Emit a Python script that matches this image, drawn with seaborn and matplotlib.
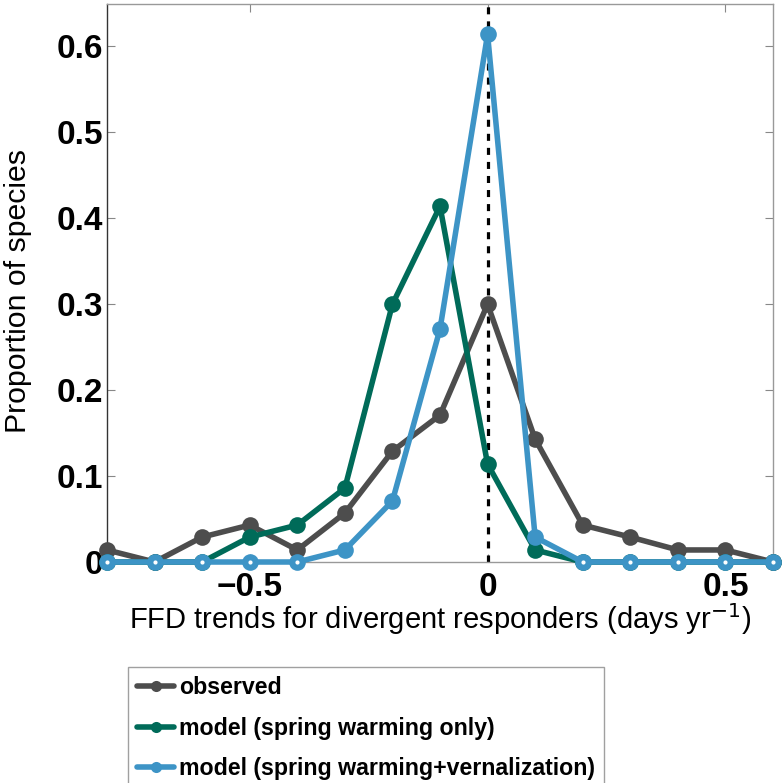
import numpy as np
import pandas as pd
import matplotlib
matplotlib.use("Agg")
import matplotlib.pyplot as plt
import seaborn as sns
from matplotlib.lines import Line2D

# ---- data ----
x_vals = [-0.8, -0.7, -0.6, -0.5, -0.4, -0.3, -0.2, -0.1, 0.0, 0.1, 0.2, 0.3, 0.4, 0.5, 0.6]
observed = [0.014, 0.0, 0.029, 0.043, 0.014, 0.057, 0.129, 0.171, 0.300, 0.143, 0.043, 0.029, 0.014, 0.014, 0.0]
model_warming = [0.0, 0.0, 0.0, 0.029, 0.043, 0.086, 0.300, 0.414, 0.114, 0.014, 0.0, 0.0, 0.0, 0.0, 0.0]
model_vern = [0.0, 0.0, 0.0, 0.0, 0.0, 0.014, 0.071, 0.271, 0.614, 0.029, 0.0, 0.0, 0.0, 0.0, 0.0]
series_names = ["observed", "model (spring warming only)", "model (spring warming+vernalization)"]
colors = ["#4d4d4d", "#006b59", "#3d94c6"]
x_ticks = [-0.5, 0.0, 0.5]
x_tick_labels = ["\u22120.5", "0", "0.5"]
y_ticks = [0.0, 0.1, 0.2, 0.3, 0.4, 0.5, 0.6]
y_tick_labels = ["0", "0.1", "0.2", "0.3", "0.4", "0.5", "0.6"]

df = pd.concat([
    pd.DataFrame({"x": x_vals, "y": vals, "series": name})
    for name, vals in zip(series_names, [observed, model_warming, model_vern])
], ignore_index=True)

sns.set_style("white")
plt.rcParams["font.family"] = ["Liberation Sans", "DejaVu Sans"]
plt.rcParams["text.color"] = "black"
plt.rcParams["axes.labelcolor"] = "black"
plt.rcParams["xtick.color"] = "black"
plt.rcParams["ytick.color"] = "black"

fig = plt.figure(figsize=(7.83, 7.83), dpi=100)
ax = fig.add_axes([107 / 783, 1 - 562 / 783, (773 - 107) / 783, (562 - 3.5) / 783])

ax.axvline(0, color="black", linestyle=(0, (2.2, 2.2)), linewidth=2.3, zorder=1)

sns.lineplot(data=df, x="x", y="y", hue="series", hue_order=series_names,
             palette=colors, marker="o", markersize=12, markeredgewidth=0,
             linewidth=4, ax=ax, legend=False, zorder=3, clip_on=False)

# white centres on zero-valued vernalization markers
zx = [xv for xv, yv in zip(x_vals, model_vern) if yv == 0]
zy = [yv for yv in model_vern if yv == 0]
ax.scatter(zx, zy, s=9, color="white", zorder=5, clip_on=False, linewidths=0)

ax.set_xlim(-0.8, 0.6)
ax.set_ylim(0, 0.65)
ax.set_xticks(x_ticks)
ax.set_xticklabels(x_tick_labels, fontsize=24, fontweight="bold")
ax.set_yticks(y_ticks)
ax.set_yticklabels(y_tick_labels, fontsize=24, fontweight="bold")
ax.tick_params(direction="in", length=6, width=0.8, color="#888888", labelcolor="black",
               top=True, right=True, bottom=True, left=True)
ax.tick_params(axis="x", pad=7)
ax.tick_params(axis="y", pad=3)
ax.set_xlabel("FFD trends for divergent responders (days yr$^{-1}$)", fontsize=21, labelpad=-1)
ax.set_ylabel("Proportion of species", fontsize=21.8)
ax.yaxis.set_label_coords(-0.112, 0.485)
for side in ["top", "right", "bottom"]:
    ax.spines[side].set_color("#999999")
    ax.spines[side].set_linewidth(1.0)
ax.spines["left"].set_color("#333333")
ax.spines["left"].set_linewidth(1.0)

handles = [Line2D([0], [0], color=c, lw=4, marker="o", markersize=8, markeredgewidth=0)
           for c in colors]
leg = fig.legend(handles, series_names, loc="upper left",
                 bbox_to_anchor=(128 / 783, 1 - 667 / 783),
                 prop={"family": ["Liberation Sans", "DejaVu Sans"], "weight": "bold", "size": 16.7},
                 frameon=True, fancybox=False, handlelength=1.6, handletextpad=0.2,
                 labelspacing=0.75, borderpad=0.4, borderaxespad=0)
leg.get_frame().set_edgecolor("#888888")
leg.get_frame().set_linewidth(1.0)

fig.savefig("out.png", dpi=100)
